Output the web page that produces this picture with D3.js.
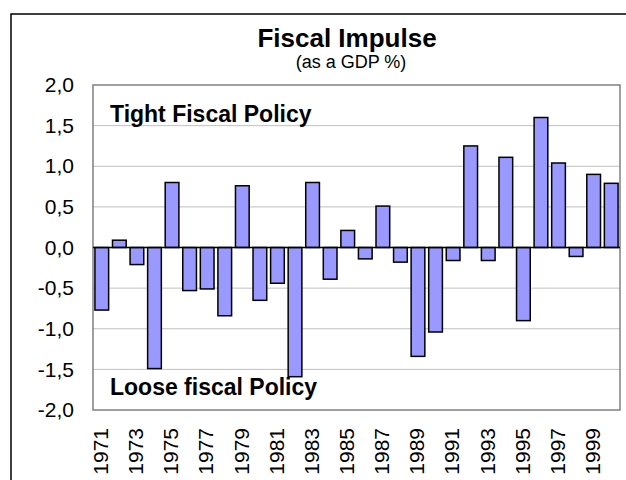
<!DOCTYPE html>
<html lang="en">
    <head>
        <meta charset="utf-8">
        <title>Fiscal Impulse</title>
        <script type="text/javascript" src="https://cdnjs.cloudflare.com/ajax/libs/d3/7.8.5/d3.min.js"></script>
        <style>
            body { margin: 0; background: #fff; }
            svg text { font-family: "Liberation Sans", Arial, sans-serif; }
        </style>
    </head>
    <body>
        <script type="text/javascript">
            // data
            var years = [1971, 1972, 1973, 1974, 1975, 1976, 1977, 1978, 1979, 1980,
                         1981, 1982, 1983, 1984, 1985, 1986, 1987, 1988, 1989, 1990,
                         1991, 1992, 1993, 1994, 1995, 1996, 1997, 1998, 1999, 2000];
            var impulse = [-0.77, 0.09, -0.21, -1.49, 0.80, -0.53, -0.51, -0.84, 0.76, -0.65,
                           -0.44, -1.59, 0.80, -0.39, 0.21, -0.14, 0.51, -0.18, -1.34, -1.04,
                           -0.16, 1.25, -0.16, 1.11, -0.90, 1.60, 1.04, -0.11, 0.90, 0.79];
            var yTicks = [-2, -1.5, -1, -0.5, 0, 0.5, 1, 1.5, 2];
            var yearLabels = [1971, 1973, 1975, 1977, 1979, 1981, 1983, 1985, 1987, 1989,
                              1991, 1993, 1995, 1997, 1999];

            var w = 626;
            var h = 480;
            // plot area edges (names avoid window.top)
            var pLeft = 93, pRight = 620, pTop = 85, pBottom = 410;

            var svg = d3.select('body')
                        .append('svg')
                        .attr('width', w)
                        .attr('height', h);

            // outer chart border (runs off the page right and bottom)
            svg.append('rect')
               .attr('x', 11).attr('y', 14)
               .attr('width', 700).attr('height', 600)
               .attr('fill', 'none')
               .attr('stroke', '#000')
               .attr('stroke-width', 1.5);

            var x = d3.scaleBand()
                      .domain(years)
                      .range([pLeft, pRight])
                      .paddingInner(0.22)
                      .paddingOuter(0.11);

            var y = d3.scaleLinear()
                      .domain([-2, 2])
                      .range([pBottom, pTop]);

            // gridlines
            svg.selectAll('line.grid')
               .data(yTicks.filter(function(d){ return d !== 0 && Math.abs(d) !== 2; }))
               .enter()
               .append('line')
               .attr('class', 'grid')
               .attr('x1', pLeft).attr('x2', pRight)
               .attr('y1', function(d){ return y(d); })
               .attr('y2', function(d){ return y(d); })
               .attr('stroke', '#c0c0c0')
               .attr('stroke-width', 1);

            // plot area border
            svg.append('rect')
               .attr('x', pLeft).attr('y', pTop)
               .attr('width', pRight - pLeft).attr('height', pBottom - pTop)
               .attr('fill', 'none')
               .attr('stroke', '#808080')
               .attr('stroke-width', 1.5);

            // bars
            svg.selectAll('rect.bar')
               .data(impulse)
               .enter()
               .append('rect')
               .attr('class', 'bar')
               .attr('x', function(d, i){ return x(years[i]); })
               .attr('y', function(d){ return y(Math.max(0, d)); })
               .attr('width', x.bandwidth())
               .attr('height', function(d){ return Math.abs(y(d) - y(0)); })
               .attr('fill', '#9999ff')
               .attr('stroke', '#000')
               .attr('stroke-width', 1.5);

            // zero line
            svg.append('line')
               .attr('x1', pLeft).attr('x2', pRight)
               .attr('y1', y(0)).attr('y2', y(0))
               .attr('stroke', '#000')
               .attr('stroke-width', 1.5);

            // y axis
            var yAxis = d3.axisLeft(y)
                          .tickValues(yTicks)
                          .tickSize(0)
                          .tickPadding(19)
                          .tickFormat(function(d){ return d3.format('.1f')(d).replace('.', ',').replace('−', '-'); });
            var gy = svg.append('g')
                        .attr('transform', 'translate(' + pLeft + ',0)')
                        .call(yAxis);
            gy.select('.domain').remove();
            gy.selectAll('text')
              .attr('font-size', '21px')
              .attr('font-family', '"Liberation Sans", Arial, sans-serif')
              .attr('fill', '#000');

            // x axis, every other year, rotated
            var xAxis = d3.axisBottom(x)
                          .tickValues(yearLabels)
                          .tickSize(0);
            var gx = svg.append('g')
                        .attr('transform', 'translate(0,' + pBottom + ')')
                        .call(xAxis);
            gx.select('.domain').remove();
            gx.selectAll('text')
              .attr('transform', 'rotate(-90)')
              .attr('x', -18)
              .attr('y', 0)
              .attr('dy', '0.3em')
              .attr('text-anchor', 'end')
              .attr('font-size', '21px')
              .attr('font-family', '"Liberation Sans", Arial, sans-serif')
              .attr('fill', '#000');

            // titles
            svg.append('text')
               .attr('x', 347).attr('y', 47)
               .attr('text-anchor', 'middle')
               .attr('font-size', '26px')
               .attr('font-weight', 'bold')
               .text('Fiscal Impulse');

            svg.append('text')
               .attr('x', 351).attr('y', 68)
               .attr('text-anchor', 'middle')
               .attr('font-size', '18px')
               .text('(as a GDP %)');

            // annotations
            svg.append('text')
               .attr('x', 110).attr('y', 122)
               .attr('font-size', '23px')
               .attr('font-weight', 'bold')
               .text('Tight Fiscal Policy');

            svg.append('text')
               .attr('x', 110).attr('y', 395)
               .attr('font-size', '23px')
               .attr('font-weight', 'bold')
               .text('Loose fiscal Policy');
        </script>
    </body>
</html>
